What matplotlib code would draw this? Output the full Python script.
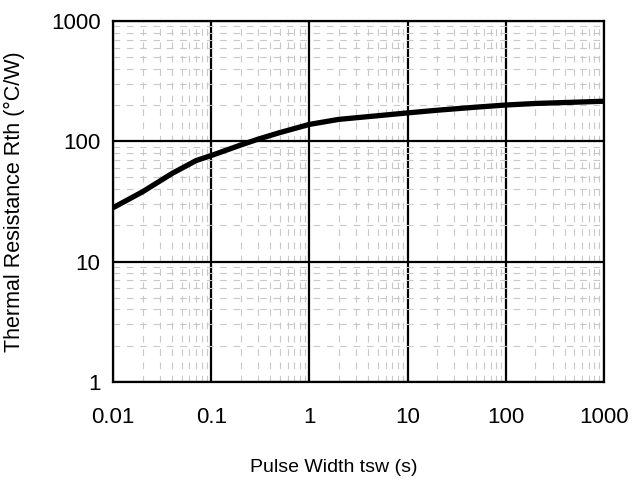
import matplotlib
matplotlib.use("Agg")
import matplotlib.pyplot as plt
from matplotlib.ticker import LogLocator, FixedLocator, NullFormatter

plt.rcParams['font.family'] = ['Liberation Sans', 'DejaVu Sans']

# pulse width (s) and thermal resistance (degC/W)
tsw = [0.01, 0.02, 0.04, 0.07, 0.1, 0.2, 0.3, 0.5, 1, 2, 5, 10, 20, 50, 100, 200, 500, 1000]
rth = [28, 38, 54, 69, 76, 93, 104, 118, 138, 152, 163, 172, 181, 192, 200, 206, 211, 215]

xticks = [0.01, 0.1, 1, 10, 100, 1000]
xlabels = ['0.01', '0.1', '1', '10', '100', '1000']
yticks = [1, 10, 100, 1000]
ylabels = ['1', '10', '100', '1000']

fig = plt.figure(figsize=(6.35, 4.87), dpi=100)
ax = fig.add_axes([0.178, 0.216, 0.773, 0.741])

ax.set_xscale('log')
ax.set_yscale('log')
ax.set_xlim(0.01, 1000)
ax.set_ylim(1, 1000)

ax.xaxis.set_major_locator(FixedLocator(xticks))
ax.set_xticklabels(xlabels)
ax.yaxis.set_major_locator(FixedLocator(yticks))
ax.set_yticklabels(ylabels)
ax.xaxis.set_minor_locator(LogLocator(base=10, subs=range(2, 10), numticks=20))
ax.yaxis.set_minor_locator(LogLocator(base=10, subs=range(2, 10), numticks=20))
ax.xaxis.set_minor_formatter(NullFormatter())
ax.yaxis.set_minor_formatter(NullFormatter())

ax.grid(which='minor', color='#c8c8c8', linestyle=(0, (6, 6)), linewidth=0.8)
ax.grid(which='major', color='black', linewidth=1.6)
ax.set_axisbelow(True)

ax.tick_params(which='both', length=0, labelsize=16)
ax.tick_params(axis='x', pad=18)
ax.tick_params(axis='y', pad=9)
for s in ax.spines.values():
    s.set_linewidth(1.6)
    s.set_color('black')

ax.plot(tsw, rth, color='black', linewidth=3.8, solid_capstyle='butt', zorder=5)

ax.set_xlabel('Pulse Width tsw (s)', fontsize=14)
ax.xaxis.set_label_coords(0.45, -0.213)
ax.set_ylabel('Thermal Resistance Rth (°C/W)', fontsize=15.5)
ax.yaxis.set_label_coords(-0.18, 0.5)

fig.savefig('out.png', dpi=100)
